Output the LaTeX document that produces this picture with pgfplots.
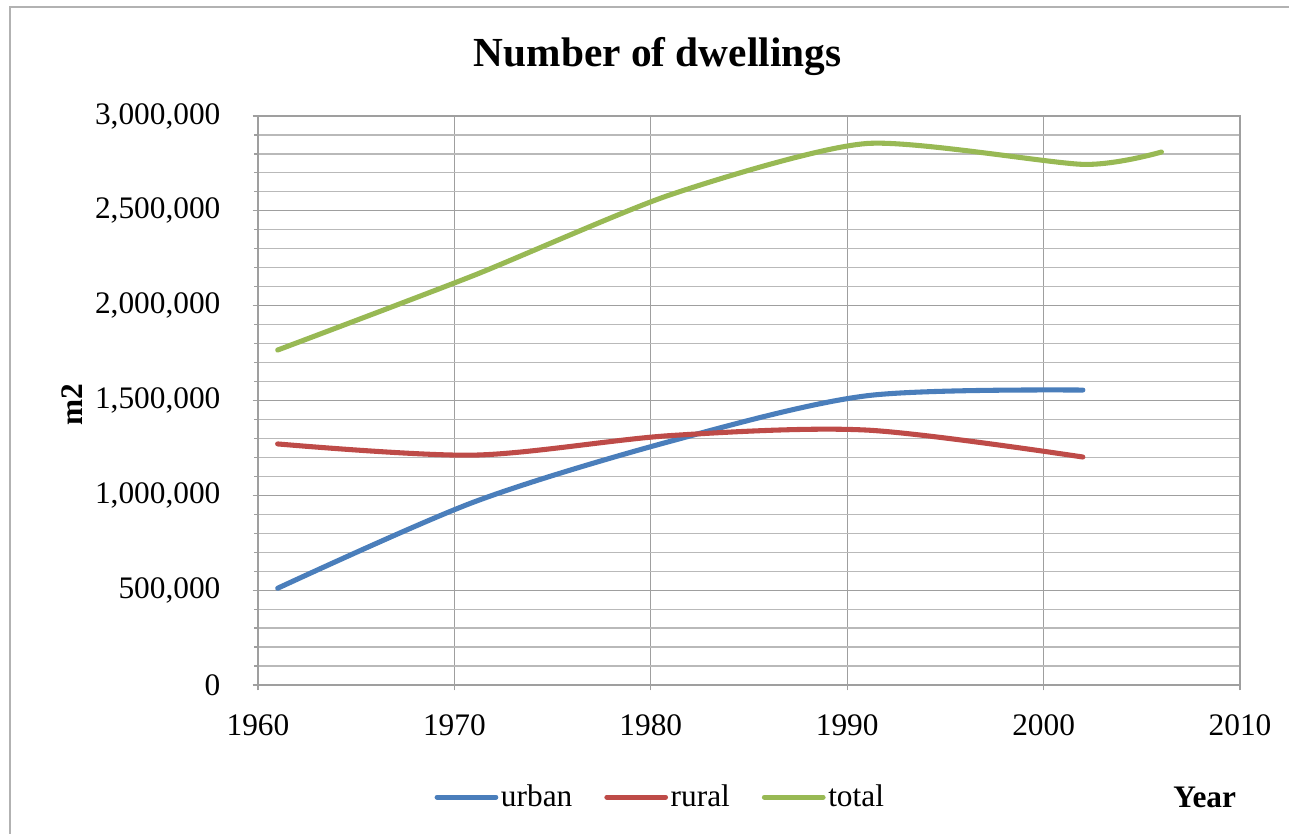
\documentclass[border=0pt]{standalone}
\usepackage{fontspec}
\setmainfont{Liberation Serif}
\usepackage{pgfplots}
\pgfplotsset{compat=1.18}
\definecolor{cblue}{HTML}{4A7EBB}
\definecolor{cred}{HTML}{BE4B48}
\definecolor{cgreen}{HTML}{98B954}
\newcommand{\tfont}{\fontsize{23.5}{28}\selectfont}
\begin{document}
\begin{tikzpicture}
\useasboundingbox (-193.5pt,-111.75pt) rectangle (773.25pt,513.75pt);
\draw[gray!60, line width=1.2pt] (-186pt,-130pt) rectangle (790pt,508.5pt);
\begin{axis}[
  at={(0,0)}, anchor=south west,
  scale only axis, width=736.5pt, height=426.75pt,
  xmin=1960, xmax=2010, ymin=0, ymax=3000000,
  xtick={1960,1970,1980,1990,2000,2010},
  ytick={0,500000,1000000,1500000,2000000,2500000,3000000},
  minor y tick num=4,
  grid=both,
  major grid style={gray!75, line width=0.9pt},
  minor grid style={gray!55, line width=0.9pt},
  axis line style={gray!75, line width=1pt},
  tick pos=left,
  tick align=outside, major tick length=4pt, minor tick length=3pt,
  tick style={gray!75, line width=0.9pt},
  scaled y ticks=false,
  yticklabel style={/pgf/number format/fixed, /pgf/number format/1000 sep={,}, /pgf/number format/assume math mode=true,
    font=\tfont, inner sep=0pt, anchor=east, xshift=-24pt},
  xticklabel style={/pgf/number format/1000 sep={}, /pgf/number format/assume math mode=true,
    font=\tfont, inner sep=0pt, anchor=north, yshift=-18pt},
  legend style={at={(0.41,-0.197)}, anchor=center, draw=none, fill=none,
    legend columns=-1, font=\tfont,
    nodes={inner sep=2pt},
    /tikz/every even column/.append style={column sep=22pt}},
  legend image code/.code={\draw[#1] (0pt,0pt) -- (44pt,0pt);},
  clip=false,
]
\addplot[cblue, line width=3.8pt, line cap=round, smooth] coordinates {
  (1961,510000) (1971,965000) (1981,1285000) (1991,1525000) (2002,1555000)};
\addlegendentry{urban}
\addplot[cred, line width=3.8pt, line cap=round, smooth] coordinates {
  (1961,1271000) (1971,1212000) (1981,1315000) (1991,1344000) (2002,1202000)};
\addlegendentry{rural}
\addplot[cgreen, line width=3.8pt, line cap=round, smooth, tension=0.4] coordinates {
  (1961,1766000) (1971,2160000) (1981,2585000) (1991,2855000) (2002,2745000) (2006,2810000)};
\addlegendentry{total}
\node[font=\fontsize{31}{36}\selectfont\bfseries] at (axis description cs:0.407,1.104) {Number of dwellings};
\node[font=\fontsize{23.5}{28}\selectfont\bfseries, rotate=90] at (axis description cs:-0.189,0.492) {m2};
\node[font=\fontsize{23.5}{28}\selectfont\bfseries] at (axis description cs:0.964,-0.197) {Year};
\end{axis}
\end{tikzpicture}
\end{document}
